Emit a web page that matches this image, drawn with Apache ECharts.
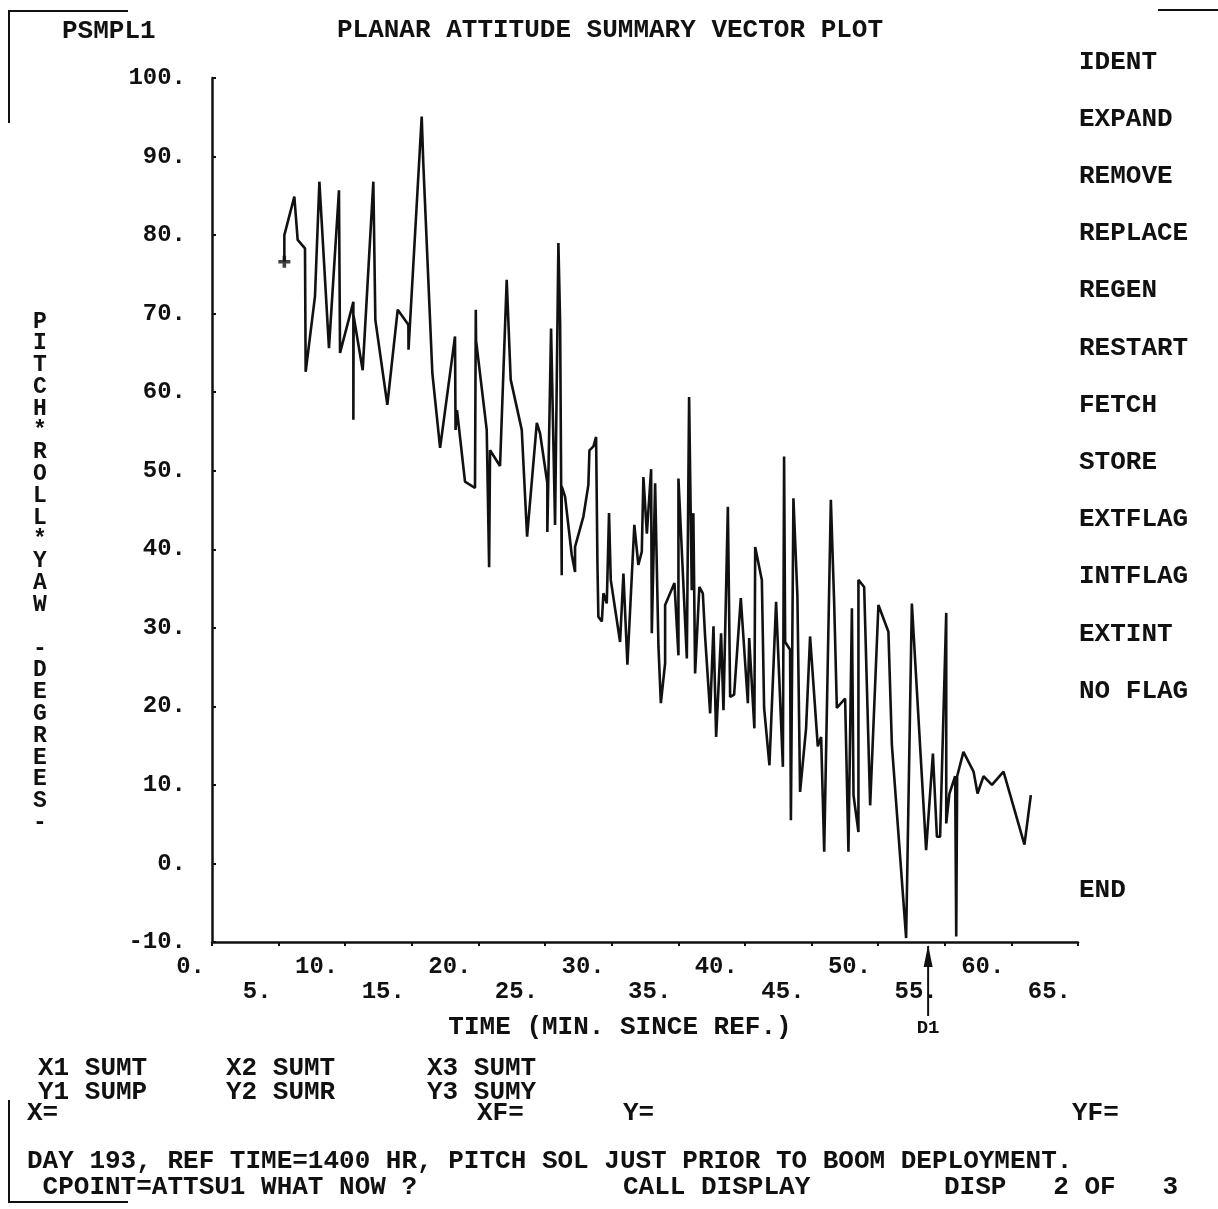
<!DOCTYPE html>
<html>
<head>
<meta charset="utf-8">
<script src="https://cdn.jsdelivr.net/npm/echarts@6/dist/echarts.min.js"></script>
<style>
  html, body { margin: 0; padding: 0; background: #fff; }
  #chart { width: 1218px; height: 1209px; }
</style>
</head>
<body>
<div id="chart"></div>
<script>
// ---------- data ----------
const timeMin = [
  5.43, 5.43, 6.18, 6.43, 6.98, 7.03, 7.73, 8.06, 8.78, 9.53,
  9.61, 10.61, 10.61, 10.63, 11.31, 12.11, 12.26, 13.16, 13.94, 14.74,
  14.75, 15.74, 15.86, 16.54, 17.12, 18.24, 18.28, 18.39, 18.99, 19.74,
  19.80, 19.82, 20.62, 20.80, 20.87, 21.62, 22.12, 22.42, 23.25, 23.65,
  24.38, 24.62, 25.17, 25.17, 25.45, 25.75, 26.00, 26.13, 26.25, 26.25,
  26.50, 27.00, 27.25, 27.25, 27.88, 28.25, 28.33, 28.63, 28.83, 28.93,
  29.00, 29.26, 29.38, 29.63, 29.80, 29.93, 30.63, 30.88, 31.18, 31.70,
  32.00, 32.26, 32.38, 32.64, 32.96, 33.01, 33.26, 33.51, 33.69, 34.01,
  34.01, 34.71, 35.01, 35.01, 35.64, 35.81, 36.01, 36.13, 36.26, 36.58,
  36.84, 37.01, 37.39, 37.64, 37.84, 38.21, 38.39, 38.72, 38.89, 39.19,
  39.69, 40.22, 40.32, 40.71, 40.77, 41.27, 41.44, 41.84, 42.34, 42.85,
  42.94, 43.02, 43.39, 43.45, 43.64, 43.94, 44.14, 44.59, 44.89, 45.47,
  45.72, 45.95, 46.45, 46.70, 46.90, 47.52, 47.77, 48.03, 48.15, 48.52,
  48.52, 48.95, 49.40, 50.02, 50.77, 51.03, 52.10, 52.53, 53.60, 54.11,
  54.41, 54.65, 55.11, 55.11, 55.35, 55.78, 55.86, 55.93, 56.40, 57.16,
  57.46, 57.91, 58.54, 59.41, 60.98, 61.46
];
const attitudeDeg = [
  76.6, 80.0, 84.9, 79.4, 78.3, 62.6, 72.2, 86.8, 65.6, 85.7,
  65.0, 71.5, 56.5, 69.7, 62.8, 86.8, 69.2, 58.4, 70.5, 68.6,
  65.4, 95.1, 89.1, 62.4, 52.9, 67.1, 55.2, 57.7, 48.6, 47.8,
  70.5, 66.6, 55.2, 37.7, 52.6, 50.6, 74.3, 61.6, 55.2, 41.6,
  56.1, 54.8, 48.4, 42.2, 68.1, 43.1, 79.0, 68.8, 36.7, 48.0,
  46.7, 39.3, 37.1, 40.3, 44.2, 48.2, 52.6, 53.1, 54.3, 38.2,
  31.4, 30.8, 34.4, 33.1, 44.6, 36.1, 28.2, 36.9, 25.3, 43.1,
  38.0, 39.7, 49.2, 42.0, 50.2, 29.3, 48.4, 27.6, 20.4, 25.5,
  32.9, 35.7, 26.5, 49.0, 26.1, 59.4, 34.8, 44.6, 24.2, 35.2,
  34.4, 28.9, 19.1, 30.2, 16.1, 29.3, 19.5, 45.4, 21.2, 21.5,
  33.8, 20.4, 28.7, 17.2, 40.3, 36.1, 19.8, 12.5, 33.3, 12.3,
  51.8, 28.2, 27.2, 5.5, 46.5, 34.0, 9.1, 17.2, 28.9, 14.9,
  16.1, 1.5, 46.3, 33.1, 19.8, 21.0, 1.5, 32.5, 8.7, 4.0,
  36.1, 35.2, 7.4, 32.9, 29.5, 15.1, -9.5, 33.1, 1.7, 14.0,
  3.4, 3.4, 31.9, 5.1, 8.9, 11.1, -9.3, 11.1, 14.2, 11.7,
  8.9, 11.1, 10.0, 11.7, 2.4, 8.7
];
const xMin = 0, xMax = 65, xStep = 5;
const yMin = -10, yMax = 100, yStep = 10;
const d1Time = 53.75;

const titleText = 'PLANAR ATTITUDE SUMMARY VECTOR PLOT';
const plotId = 'PSMPL1';
const xAxisTitle = 'TIME (MIN. SINCE REF.)';
const yAxisTitle = 'PITCH*ROLL*YAW -DEGREES-';
const menuItems = ['IDENT', 'EXPAND', 'REMOVE', 'REPLACE', 'REGEN', 'RESTART',
                   'FETCH', 'STORE', 'EXTFLAG', 'INTFLAG', 'EXTINT', 'NO FLAG'];
const endItem = 'END';

// ---------- chart ----------
const FONT = '"Liberation Mono", "DejaVu Sans Mono", monospace';
const INK = '#111';
const chart = echarts.init(document.getElementById('chart'), null, { renderer: 'canvas' });

const lineData = timeMin.map((t, i) => [t, attitudeDeg[i]]);

chart.setOption({
  animation: false,
  backgroundColor: '#fff',
  grid: { left: 212, right: 140, top: 78, bottom: 267, containLabel: false },
  xAxis: {
    type: 'value', min: xMin, max: xMax, interval: xStep,
    axisLine: { show: true, onZero: false, lineStyle: { color: INK, width: 2.5 } },
    axisTick: { show: true, inside: false, length: 4, lineStyle: { color: INK, width: 2 } },
    splitLine: { show: false },
    axisLabel: {
      show: true, margin: 12, color: INK, fontFamily: FONT, fontSize: 24, fontWeight: 'bold',
      align: 'right', padding: [0, 7, 0, 0], lineHeight: 25,
      formatter: v => ((v / xStep) % 2 === 1 ? '\n' : '') + v + '.'
    }
  },
  yAxis: {
    type: 'value', min: yMin, max: yMax, interval: yStep,
    axisLine: { show: true, onZero: false, lineStyle: { color: INK, width: 2.5 } },
    axisTick: { show: true, inside: true, length: 4, lineStyle: { color: INK, width: 2 } },
    splitLine: { show: false },
    axisLabel: {
      show: true, margin: 26, color: INK, fontFamily: FONT, fontSize: 24, fontWeight: 'bold',
      formatter: v => v + '.'
    }
  },
  series: [
    {
      type: 'line', data: lineData, showSymbol: false, symbol: 'none',
      lineStyle: { color: INK, width: 2.6 }, z: 3
    },
    {
      type: 'scatter', data: [lineData[0]],
      symbol: 'path://M3.5,0H6.5V3.5H10V6.5H6.5V10H3.5V6.5H0V3.5H3.5Z', symbolSize: 12,
      itemStyle: { color: INK }, z: 4
    }
  ]
});

// ---------- annotations ----------
function txt(text, x, y, size, align) {
  return {
    type: 'text', x: x, y: y, z: 10,
    style: {
      text: text, font: 'bold ' + (size || 26) + 'px ' + FONT, fill: INK,
      align: align || 'left', verticalAlign: 'middle'
    }
  };
}
const g = [];
g.push(txt(plotId, 62, 31));
g.push(txt(titleText, 610, 30, 26, 'center'));
menuItems.forEach((m, i) => g.push(txt(m, 1079, 62 + i * 57.2)));
g.push(txt(endItem, 1079, 890));
g.push(txt(xAxisTitle, 620, 1027, 26, 'center'));
g.push({
  type: 'text', x: 40, y: 311, z: 10,
  style: {
    text: yAxisTitle.split('').join('\n'), font: 'bold 23px ' + FONT, fill: INK,
    align: 'center', verticalAlign: 'top', lineHeight: 21.8
  }
});
// bottom terminal text
g.push(txt('X1 SUMT', 38, 1068));
g.push(txt('Y1 SUMP', 38, 1092));
g.push(txt('X2 SUMT', 226, 1068));
g.push(txt('Y2 SUMR', 226, 1092));
g.push(txt('X3 SUMT', 427, 1068));
g.push(txt('Y3 SUMY', 427, 1092));
g.push(txt('X=', 27, 1113));
g.push(txt('XF=', 477, 1113));
g.push(txt('Y=', 623, 1113));
g.push(txt('YF=', 1072, 1113));
g.push(txt('DAY 193, REF TIME=1400 HR, PITCH SOL JUST PRIOR TO BOOM DEPLOYMENT.', 27, 1161));
g.push(txt(' CPOINT=ATTSU1 WHAT NOW ?', 27, 1187));
g.push(txt('CALL DISPLAY', 623, 1187));
g.push(txt('DISP   2 OF   3', 944, 1187));
// frame corners
const frame = { stroke: INK, lineWidth: 2, fill: null };
g.push({ type: 'polyline', z: 10, shape: { points: [[9, 123], [9, 11], [128, 11]] }, style: frame });
g.push({ type: 'polyline', z: 10, shape: { points: [[1158, 10], [1218, 10]] }, style: frame });
g.push({ type: 'polyline', z: 10, shape: { points: [[9, 1100], [9, 1202], [128, 1202]] }, style: frame });
// D1 arrow
const p = chart.convertToPixel({ xAxisIndex: 0, yAxisIndex: 0 }, [d1Time, yMin]);
g.push({ type: 'line', z: 10, shape: { x1: p[0], y1: p[1] + 4, x2: p[0], y2: p[1] + 74 }, style: { stroke: INK, lineWidth: 2 } });
g.push({ type: 'polygon', z: 10, shape: { points: [[p[0], p[1] + 3], [p[0] - 4.5, p[1] + 25], [p[0] + 4.5, p[1] + 25]] }, style: { fill: INK } });
g.push(txt('D1', p[0], 1028, 19, 'center'));
chart.setOption({ graphic: g });
</script>
</body>
</html>
